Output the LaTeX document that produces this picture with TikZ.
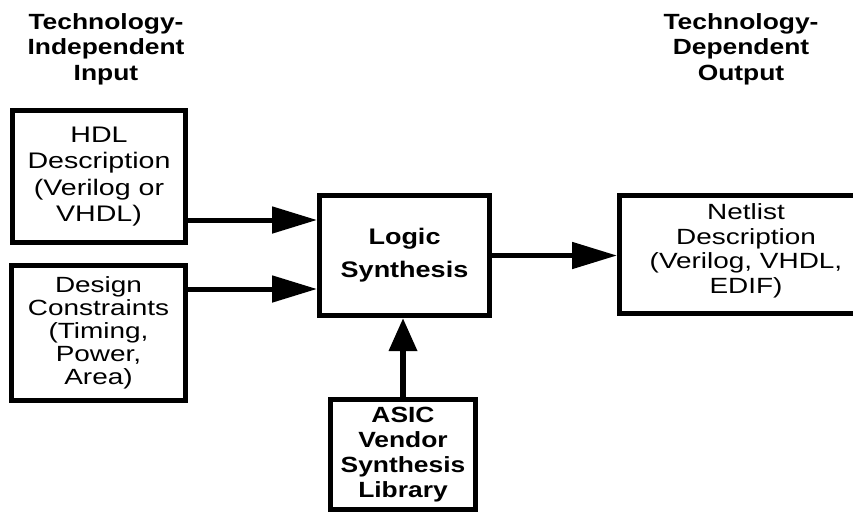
\documentclass[tikz,border=0pt]{standalone}
\usepackage{fontspec}
\setmainfont{Liberation Sans}[FakeStretch=1.2]
\newfontfamily\widefont{Liberation Sans}[FakeStretch=1.27]
\usetikzlibrary{arrows.meta}
\begin{document}
\begin{tikzpicture}[x=1pt,y=-1pt,
  box/.style={draw, line width=5pt, align=center, inner sep=0pt},
  plain/.style={font=\widefont\fontsize{22.5}{26.5}\selectfont},
  head/.style={align=center, inner sep=0pt, anchor=north,
    font=\fontsize{22}{25.5}\selectfont\bfseries},
  arr/.style={line width=5pt, -{Triangle[length=45pt,width=26pt]}},
  arrv/.style={line width=6.5pt, -{Triangle[length=33pt,width=27pt]}},
]
\useasboundingbox (0,0) rectangle (853,514);
\clip (0,0) rectangle (853,514);

% column headings
\node[head] (hin) at (106,13) {Technology-\\Independent\\Input};
\node[head] (hout) at (741,13) {Technology-\\Dependent\\Output};

% boxes
\node[box, plain, minimum width=173pt, minimum height=132pt] (hdl) at (99,176.5)
  {HDL\\Description\\(Verilog or\\VHDL)};
\node[box, font=\widefont\fontsize{22}{23}\selectfont, minimum width=174pt, minimum height=135pt] (dc) at (98.5,333)
  {Design\\Constraints\\(Timing,\\Power,\\Area)};
\node[box, font=\fontsize{22.5}{33}\selectfont\bfseries, minimum width=170pt, minimum height=120pt] (ls) at (404.5,255.5)
  {Logic\\Synthesis};
\node[box, font=\widefont\fontsize{22}{24.5}\selectfont, text depth=12pt, minimum width=253pt, minimum height=118pt] (nl) at (746,254.5)
  {Netlist\\Description\\(Verilog, VHDL,\\EDIF)};
\node[box, font=\fontsize{22}{25}\selectfont\bfseries, minimum width=145pt, minimum height=110pt] (lib) at (403,454.5)
  {ASIC\\Vendor\\Synthesis\\Library};

% connectors
\coordinate (r1) at (0,220);
\coordinate (r2) at (0,289);
\draw[arr] (hdl.east |- r1) -- (ls.west |- r1);
\draw[arr] (dc.east |- r2) -- (ls.west |- r2);
\draw[arr] (ls.east) -- (ls.east -| nl.west);
\draw[arrv] (lib.north) -- (lib.north |- ls.south);
\end{tikzpicture}
\end{document}
